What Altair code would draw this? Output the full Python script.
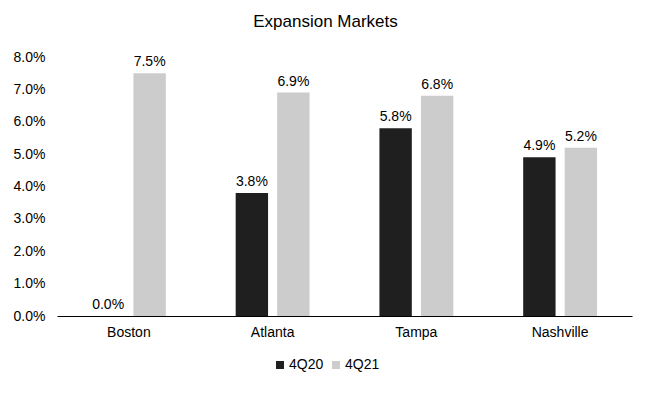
import altair as alt
import pandas as pd

markets = ["Boston", "Atlanta", "Tampa", "Nashville"]
q4_20 = [0.0, 3.8, 5.8, 4.9]
q4_21 = [7.5, 6.9, 6.8, 5.2]
series = ["4Q20", "4Q21"]
colors = ["#1f1f1f", "#cccccc"]
y_ticks = [0.0, 1.0, 2.0, 3.0, 4.0, 5.0, 6.0, 7.0, 8.0]

rows = []
for i, m in enumerate(markets):
    rows.append({"market": m, "series": series[0], "value": q4_20[i] / 100})
    rows.append({"market": m, "series": series[1], "value": q4_21[i] / 100})
df = pd.DataFrame(rows)

FONT = "Liberation Sans"
FS = 14

x = alt.X("market:N", sort=markets, title=None,
          scale=alt.Scale(paddingInner=0.486, paddingOuter=0.243),
          axis=alt.Axis(labelAngle=0, labelFontSize=FS, labelColor="#000000",
                        labelFont=FONT, ticks=False, domainColor="#000000",
                        domainWidth=1.2, labelPadding=9))
xo = alt.XOffset("series:N", sort=series,
                 scale=alt.Scale(paddingInner=0.22, paddingOuter=0))
y = alt.Y("value:Q", title=None,
          scale=alt.Scale(domain=[0, 0.08], nice=False),
          axis=alt.Axis(format=".1%", values=[round(v / 100, 4) for v in y_ticks],
                        labelOverlap=False,
                        labelFontSize=FS, labelColor="#000000", labelFont=FONT,
                        domain=False, ticks=False, grid=False, labelPadding=12))

base = alt.Chart(df).encode(x=x, xOffset=xo, y=y)

bars = base.mark_bar().encode(
    color=alt.Color("series:N", sort=series,
                    scale=alt.Scale(domain=series, range=colors),
                    legend=alt.Legend(title=None, orient="none", direction="horizontal",
                                      legendX=216, legendY=301,
                                      symbolType="square",
                                      symbolSize=64, labelFontSize=FS, labelFont=FONT,
                                      labelColor="#000000", columnPadding=5,
                                      symbolStrokeWidth=0, labelOffset=2)),
)

labels = base.mark_text(dy=-11, fontSize=FS, font=FONT, color="#000000").encode(
    text=alt.Text("value:Q", format=".1%"),
)

chart = (bars + labels).properties(
    width=575, height=259,
    title=alt.TitleParams("Expansion Markets", fontSize=17, font=FONT,
                          fontWeight="normal", color="#000000", offset=19, dx=-19),
).configure(padding={"left": 5, "top": 5, "right": 5, "bottom": 5}).configure_view(stroke=None)

chart.save("out.html", embed_options={"renderer": "svg", "actions": False})
